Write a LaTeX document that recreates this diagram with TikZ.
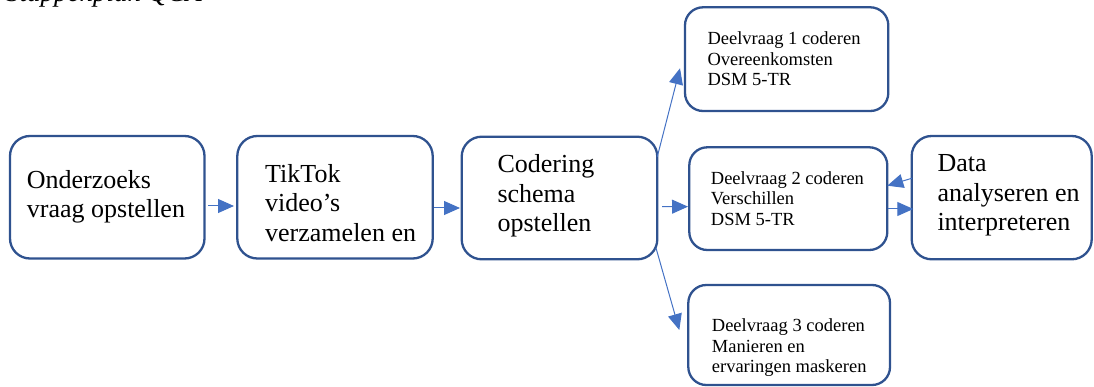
\documentclass[tikz,border=0pt]{standalone}
\usepackage{fontspec}
\setmainfont{Liberation Serif}
\usetikzlibrary{arrows.meta,calc}
\definecolor{boxline}{HTML}{2F528F}
\definecolor{arrowblue}{HTML}{4472C4}
\newcommand\boxlines[1]{\begin{tabular}[t]{@{}l@{}}#1\end{tabular}}
\tikzset{
  stepbox/.style={draw=boxline, line width=2.3pt, rounded corners=20pt, inner sep=0pt, outer sep=0pt},
  smallbox/.style={stepbox, rounded corners=18pt},
  bigtext/.style={anchor=base west, inner sep=0pt, font=\fontsize{26}{29.5}\selectfont},
  smalltext/.style={anchor=base west, inner sep=0pt, font=\fontsize{18.5}{20.5}\selectfont},
  flow/.style={draw=arrowblue, line width=1pt, -{Triangle[length=16pt,width=14pt]}},
}
\begin{document}
\begin{tikzpicture}[x=1pt, y=-1pt]
\useasboundingbox (0,0) rectangle (1094,387);
\clip (0,0) rectangle (1094,387);

% heading, partly cut off at the top edge
\node[anchor=base west, inner sep=0pt, font=\fontsize{27}{30}\selectfont\itshape] (title) at (6,2) {Stappenplan QCA};

% main steps
\node[stepbox, minimum width=194.5pt, minimum height=122.5pt] (b1) at (107.25,197.25) {};
\node[stepbox, minimum width=195.4pt, minimum height=122.5pt] (b2) at (335,197.25) {};
\node[stepbox, minimum width=195.6pt, minimum height=122.6pt] (b3) at (559.5,198) {};
\node[stepbox, minimum width=180pt, minimum height=123.3pt] (data) at (1001.7,197.65) {};

% sub-questions
\node[smallbox, minimum width=203.3pt, minimum height=103.7pt] (d1) at (786.65,59.15) {};
\node[smallbox, minimum width=198pt, minimum height=102.7pt] (d2) at (788.3,198.65) {};
\node[smallbox, minimum width=201.7pt, minimum height=100pt] (d3) at (789.15,335) {};

% texts
\node[bigtext] (b1t) at (26.7,188.3) {\boxlines{Onderzoeks\\vraag opstellen}};
\node[bigtext] (b2t) at (265,182.3) {\boxlines{TikTok\\video’s\\verzamelen en}};
\node[bigtext] (b3t) at (497.3,172.7) {\boxlines{Codering\\schema\\opstellen}};
\node[bigtext] (datat) at (937.3,171.7) {\boxlines{Data\\analyseren en\\interpreteren}};
\node[smalltext] (d1t) at (707.3,45) {\boxlines{Deelvraag 1 coderen\\Overeenkomsten\\DSM 5-TR}};
\node[smalltext] (d2t) at (710.7,184.3) {\boxlines{Deelvraag 2 coderen\\Verschillen\\DSM 5-TR}};
\node[smalltext] (d3t) at (711.7,331.7) {\boxlines{Deelvraag 3 coderen\\Manieren en\\ervaringen maskeren}};

% connectors
\draw[flow] ($(b1.east)+(3.5,8.75)$) -- ($(b2.west)+(-3.3,8.75)$);
\draw[flow] ($(b2.east)+(1.3,10.75)$) -- ($(b3.west)+(-1.7,10)$);
\draw[flow] ($(b3.east)+(4.7,8.7)$) -- ($(d2.west)+(-1.3,8)$);
\draw[flow] ($(b3.north east)+(0,20)$) -- ($(d1.south west)+(-5,-42.7)$);
\draw[flow] ($(b3.south east)+(-1.3,-11.3)$) -- ($(d3.north west)+(-9,45)$);
\draw[flow] ($(data.west)+(0,-19.35)$) -- ($(d2.east)+(0,-12.95)$);
\draw[flow] ($(d2.east)+(1,10.35)$) -- ($(data.west)+(1.6,11.35)$);
\end{tikzpicture}
\end{document}
